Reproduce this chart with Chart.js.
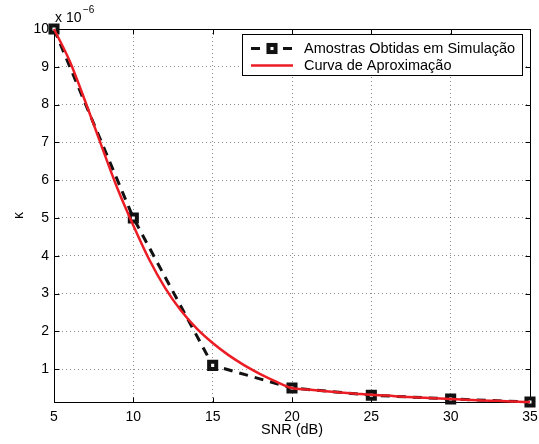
<!DOCTYPE html>
<html>
<head>
<meta charset="utf-8">
<script src="https://cdn.jsdelivr.net/npm/chart.js@4/dist/chart.umd.min.js"></script>
<style>
  body { margin: 0; background: #fff; }
  #kappaChart { display: block; }
</style>
</head>
<body>
<canvas id="kappaChart" width="539" height="444"></canvas>
<script>
// simulated samples
const snrSamples = [5, 10, 15, 20, 25, 30, 35];
const kappaSamples = [10, 5, 1.1, 0.5, 0.31, 0.21, 0.13];

// approximation curve, read at every dB
const fitSnr = [5, 6, 7, 8, 9, 10, 11, 12, 13, 14, 15, 16, 17, 18, 19, 20,
  21, 22, 23, 24, 25, 26, 27, 28, 29, 30, 31, 32, 33, 34, 35];
const fitKappa = [10, 9.14, 8.05, 6.9, 5.78, 4.8, 3.9, 3.15, 2.55, 2.07, 1.69, 1.37, 1.1, 0.87, 0.67, 0.5,
  0.46, 0.42, 0.38, 0.35, 0.32, 0.3, 0.27, 0.25, 0.23, 0.21, 0.19, 0.17, 0.16, 0.14, 0.13];

const xTicks = [5, 10, 15, 20, 25, 30, 35];
const yTicks = [1, 2, 3, 4, 5, 6, 7, 8, 9, 10];
const legendLabels = ['Amostras Obtidas em Simulação', 'Curva de Aproximação'];

const FONT = 'Helvetica, "Liberation Sans", Arial, sans-serif';
const RED = '#ec1c24';

// box, inward ticks, exponent and legend drawn in the old plotting style
const frame = {
  id: 'frame',
  beforeDatasetsDraw(chart) {
    const { ctx, chartArea: a, scales } = chart;
    const L = Math.round(a.left) + 0.5, R = Math.round(a.right) + 0.5;
    const T = Math.round(a.top) + 0.5, B = Math.round(a.bottom) + 0.5;
    ctx.save();
    ctx.strokeStyle = '#000';
    ctx.lineWidth = 1;
    ctx.strokeRect(L, T, R - L, B - T);
    ctx.beginPath();
    xTicks.forEach(v => {
      const x = Math.round(scales.x.getPixelForValue(v)) + 0.5;
      ctx.moveTo(x, B); ctx.lineTo(x, B - 5);
      ctx.moveTo(x, T); ctx.lineTo(x, T + 5);
    });
    yTicks.forEach(v => {
      const y = Math.round(scales.y.getPixelForValue(v)) + 0.5;
      ctx.moveTo(L, y); ctx.lineTo(L + 5, y);
      ctx.moveTo(R, y); ctx.lineTo(R - 5, y);
    });
    ctx.stroke();
    ctx.restore();
  },
  afterDraw(chart) {
    const { ctx } = chart;
    ctx.save();
    ctx.fillStyle = '#000';
    ctx.textBaseline = 'alphabetic';
    ctx.font = '14px ' + FONT;
    ctx.fillText('x 10', 55, 22);
    ctx.font = '10px ' + FONT;
    ctx.fillText('\u22126', 83, 13);

    // legend box
    const bx = 242.5, by = 34.5, bw = 280, bh = 41;
    ctx.fillStyle = '#fff';
    ctx.fillRect(bx, by, bw, bh);
    ctx.strokeStyle = '#000';
    ctx.lineWidth = 1;
    ctx.strokeRect(bx, by, bw, bh);

    const rows = [48.5, 65.5];
    const sets = chart.data.datasets;
    rows.forEach((y, i) => {
      const ds = sets[i];
      ctx.beginPath();
      ctx.setLineDash(ds.borderDash || []);
      ctx.strokeStyle = ds.borderColor;
      ctx.lineWidth = ds.borderWidth;
      ctx.moveTo(251, y);
      ctx.lineTo(293, y);
      ctx.stroke();
      ctx.setLineDash([]);
      if (ds.pointRadius) {
        const s = ds.pointRadius * Math.SQRT1_2;
        ctx.fillStyle = ds.pointBackgroundColor;
        ctx.strokeStyle = ds.pointBorderColor;
        ctx.lineWidth = ds.pointBorderWidth;
        ctx.fillRect(272 - s, y - s, 2 * s, 2 * s);
        ctx.strokeRect(272 - s, y - s, 2 * s, 2 * s);
      }
      ctx.fillStyle = '#000';
      ctx.font = '14.5px ' + FONT;
      ctx.textBaseline = 'middle';
      ctx.fillText(legendLabels[i], 304, y + 0.5);
    });
    ctx.restore();
  }
};

const ctx = document.getElementById('kappaChart').getContext('2d');

new Chart(ctx, {
  type: 'line',
  data: {
    datasets: [{
      label: legendLabels[0],
      data: snrSamples.map((s, i) => ({ x: s, y: kappaSamples[i] })),
      borderColor: '#111',
      borderWidth: 3,
      borderDash: [9, 7],
      pointStyle: 'rect',
      pointRadius: 5,
      pointBorderWidth: 4,
      pointBackgroundColor: '#fff',
      pointBorderColor: '#111',
      tension: 0,
      clip: false,
      order: 2
    }, {
      label: legendLabels[1],
      data: fitSnr.map((s, i) => ({ x: s, y: fitKappa[i] })),
      borderColor: RED,
      borderWidth: 2.5,
      pointRadius: 0,
      cubicInterpolationMode: 'monotone',
      clip: false,
      order: 1
    }]
  },
  options: {
    responsive: false,
    animation: false,
    layout: { padding: { top: 29, right: 9, left: 0, bottom: 0 } },
    plugins: {
      legend: { display: false },
      tooltip: { enabled: false }
    },
    scales: {
      x: {
        type: 'linear',
        min: 5,
        max: 35,
        afterFit: (scale) => {
          scale.height = 42;
          scale.paddingLeft = 0;
          scale.paddingRight = 0;
        },
        afterBuildTicks: (scale) => { scale.ticks = xTicks.map(v => ({ value: v })); },
        ticks: { color: '#000', font: { family: FONT, size: 14 }, padding: 7 },
        grid: { color: 'rgba(0,0,0,0.45)', drawTicks: false },
        border: { display: false, dash: [1, 3] },
        title: {
          display: true,
          text: 'SNR (dB)',
          color: '#000',
          font: { family: FONT, size: 14.5 },
          padding: { top: 0, bottom: 5.5 }
        }
      },
      y: {
        type: 'linear',
        min: 0.13,
        max: 10,
        afterFit: (scale) => { scale.width = 54; },
        afterBuildTicks: (scale) => { scale.ticks = yTicks.map(v => ({ value: v })); },
        ticks: { color: '#000', font: { family: FONT, size: 14 }, padding: 5 },
        grid: { color: 'rgba(0,0,0,0.45)', drawTicks: false },
        border: { display: false, dash: [1, 3] },
        title: {
          display: true,
          text: 'κ',
          color: '#000',
          font: { family: FONT, size: 14 },
          padding: { top: 10.5, bottom: 0 }
        }
      }
    }
  },
  plugins: [frame]
});
</script>
</body>
</html>
